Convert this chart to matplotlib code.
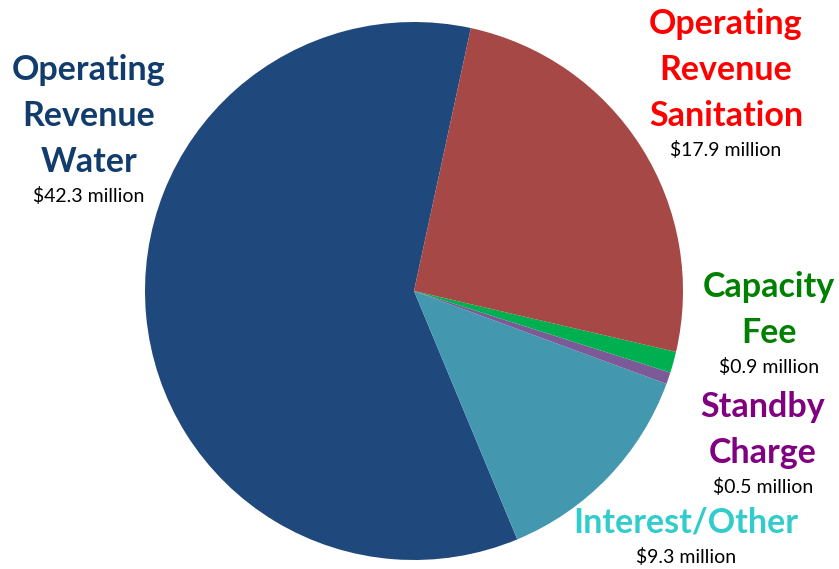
import matplotlib.pyplot as plt

# revenue sources, in pie order (counter-clockwise from the top)
sources = [["Operating", "Revenue", "Water"], ["Interest/Other"],
           ["Standby", "Charge"], ["Capacity", "Fee"],
           ["Operating", "Revenue", "Sanitation"]]
amounts = [42.3, 9.3, 0.5, 0.9, 17.9]
wedge_colors = ["#1F497D", "#4398B0", "#7B5A97", "#00B050", "#A64845"]
text_colors = ["#123C6C", "#33CCCC", "#800080", "#008000", "#FF0000"]
# label centre x and first baseline y, in pixels from the top-left
label_pos = [(89, 80), (686, 533), (763, 417), (769, 297), (726, 34)]

W, H = 839, 569
fig = plt.figure(figsize=(W / 100, H / 100), dpi=100)
ax = fig.add_axes([0, 0, 1, 1])

cx, cy, r = 414, H - 291, 269
ax.pie(amounts, colors=wedge_colors, startangle=77.8, counterclock=True,
       center=(cx, cy), radius=r, frame=True,
       wedgeprops=dict(linewidth=0))
ax.set_xlim(0, W)
ax.set_ylim(0, H)
ax.set_aspect("equal")
ax.axis("off")

for lines, val, col, (x, y0) in zip(sources, amounts, text_colors, label_pos):
    y = y0
    for line in lines:
        ax.text(x, H - y, line, ha="center", va="baseline", fontsize=24.5,
                fontweight="bold", family="Lato", color=col)
        y += 46
    ax.text(x, H - (y - 16), f"${val} million", ha="center", va="baseline",
            fontsize=14, family="Lato", color="black")

fig.savefig("out.png", dpi=100)
